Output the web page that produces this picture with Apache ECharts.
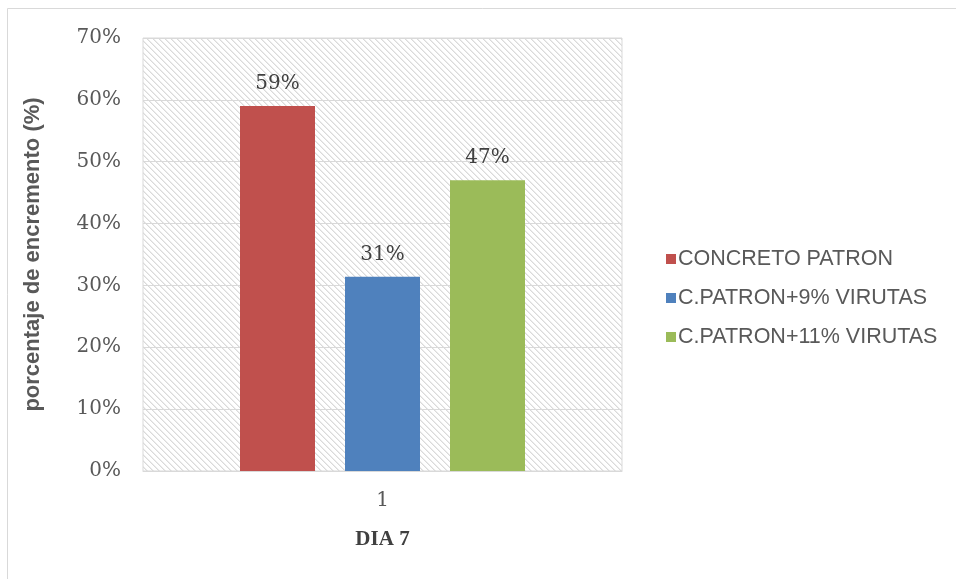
<!DOCTYPE html>
<html>
<head>
<meta charset="utf-8">
<script src="https://cdn.jsdelivr.net/npm/echarts@6/dist/echarts.min.js"></script>
<style>
  html, body { margin: 0; padding: 0; background: #ffffff; }
  #chart { width: 956px; height: 579px; }
</style>
</head>
<body>
<div id="chart"></div>
<script>
// Day-7 increase percentages per mix
const categories = ['1'];
const seriesNames = ['CONCRETO PATRON', 'C.PATRON+9% VIRUTAS', 'C.PATRON+11% VIRUTAS'];
const seriesValues = [[59], [31.4], [47]];
const seriesColors = ['#c0504d', '#4f81bd', '#9bbb59'];
const yTicks = { min: 0, max: 70, interval: 10 };

// Diagonal hatch tile for the plot background
function hatchTile() {
  const n = 6;
  const c = document.createElement('canvas');
  c.width = n; c.height = n;
  const ctx = c.getContext('2d');
  const img = ctx.createImageData(n, n);
  for (let y = 0; y < n; y++) {
    for (let x = 0; x < n; x++) {
      const d = ((x - y) % n + n) % n;
      let v = 255;
      if (d === 0) v = 218;
      else if (d === 1) v = 236;
      const i = (y * n + x) * 4;
      img.data[i] = v; img.data[i + 1] = v; img.data[i + 2] = v; img.data[i + 3] = 255;
    }
  }
  ctx.putImageData(img, 0, 0);
  return c;
}

const numFont = '"DejaVu Serif", "Liberation Serif", serif';
const serif = '"Liberation Serif", "DejaVu Serif", serif';
const sans = '"Liberation Sans", Arial, sans-serif';

const chart = echarts.init(document.getElementById('chart'), null, { renderer: 'canvas' });

chart.setOption({
  backgroundColor: '#ffffff',
  animation: false,
  graphic: [{
    type: 'rect',
    shape: { x: 7.5, y: 8.5, width: 1200, height: 1200 },
    style: { fill: 'none', stroke: '#d9d9d9', lineWidth: 1 },
    silent: true,
    z: -10
  }],
  grid: {
    left: 143, top: 38, width: 479, height: 433,
    show: true,
    borderColor: '#d9d9d9',
    borderWidth: 1,
    backgroundColor: { image: hatchTile(), repeat: 'repeat' }
  },
  legend: {
    orient: 'vertical',
    left: 661,
    top: 243,
    itemWidth: 10,
    itemHeight: 10,
    itemGap: 17,
    icon: 'rect',
    data: seriesNames,
    textStyle: { fontFamily: sans, fontSize: 21.5, color: '#595959', padding: [0, 0, 0, -3] }
  },
  xAxis: {
    type: 'category',
    data: categories,
    axisLine: { show: true, lineStyle: { color: '#d9d9d9' } },
    axisTick: { show: false },
    axisLabel: { fontFamily: numFont, fontSize: 20, color: '#595959', margin: 20 },
    name: 'DIA 7',
    nameLocation: 'middle',
    nameGap: 58,
    nameTextStyle: { fontFamily: serif, fontSize: 21, fontWeight: 'bold', color: '#404040' }
  },
  yAxis: {
    type: 'value',
    min: yTicks.min,
    max: yTicks.max,
    interval: yTicks.interval,
    axisLine: { show: false },
    axisTick: { show: false },
    splitLine: { lineStyle: { color: '#d9d9d9', width: 1 } },
    axisLabel: { fontFamily: numFont, fontSize: 20, color: '#595959', margin: 22, formatter: '{value}%' },
    name: 'porcentaje de encremento (%)',
    nameLocation: 'middle',
    nameGap: 99,
    nameTextStyle: { fontFamily: sans, fontSize: 22, fontWeight: 'bold', color: '#595959' }
  },
  series: seriesNames.map((name, i) => ({
    name: name,
    type: 'bar',
    data: seriesValues[i],
    barWidth: 75,
    barGap: '40%',
    itemStyle: { color: seriesColors[i] },
    label: {
      show: true,
      position: 'top',
      distance: 12,
      fontFamily: numFont,
      fontSize: 20,
      color: '#404040',
      formatter: p => Math.round(p.value) + '%'
    }
  }))
});
</script>
</body>
</html>
